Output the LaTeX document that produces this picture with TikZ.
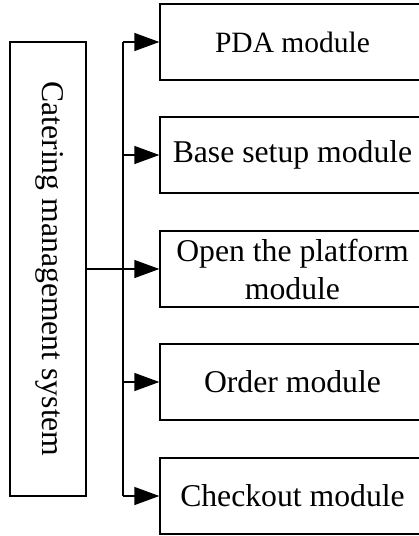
\documentclass[tikz,border=0pt]{standalone}
\usepackage{fontspec}
\setmainfont{Liberation Serif}
\usetikzlibrary{arrows.meta}
\begin{document}
\begin{tikzpicture}[x=1pt,y=-1pt,
  box/.style={draw,line width=1.3pt,rectangle,inner sep=0pt,align=center,
    font=\fontsize{31.7}{38}\selectfont},
  modbox/.style={box,minimum width=265pt,minimum height=76pt},
  link/.style={line width=1.3pt},
  feed/.style={line width=1.3pt,-{Triangle[length=25pt,width=18pt]}}]
\useasboundingbox (0,0) rectangle (419,536);
\clip (0,0) rectangle (419,536);

% main system box, text runs top to bottom
\node[box,minimum width=76pt,minimum height=454pt] (sys) at (48,269) {};
\node[font=\fontsize{31.7}{38}\selectfont,rotate=-90,inner sep=0pt] (systext) at (50,269) {Catering management system};

% module boxes
\node[modbox,font=\fontsize{29.5}{36}\selectfont] (pda) at (292.5,42) {PDA module};
\node[modbox] (base) at (292.5,155) {Base setup module};
\node[modbox] (open) at (292.5,269) {Open the platform\\module};
\node[modbox] (order) at (292.5,382) {Order module};
\node[modbox] (check) at (292.5,496) {Checkout module};

% distribution bus
\coordinate (bustop) at (123,42);
\coordinate (busbot) at (123,496);
\draw[link] (bustop) -- (busbot);
\draw[feed] (sys.east) -- (open.west);
\draw[feed] (bustop) -- (pda.west);
\draw[feed] (123,155) -- (base.west);
\draw[feed] (123,382) -- (order.west);
\draw[feed] (busbot) -- (check.west);
\end{tikzpicture}
\end{document}
